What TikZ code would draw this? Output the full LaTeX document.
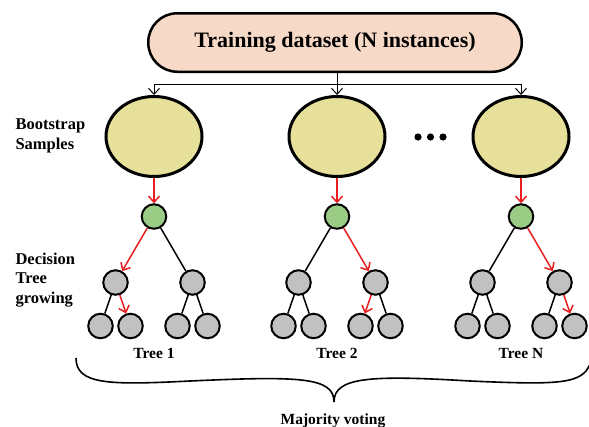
\documentclass[tikz,border=0pt]{standalone}
\usepackage{fontspec}
\setmainfont{Liberation Serif}
\usepackage{tikz}
\usetikzlibrary{calc}
\usetikzlibrary{arrows.meta,shapes.geometric}
\definecolor{boxpeach}{RGB}{247,217,199}
\definecolor{samplekhaki}{RGB}{230,224,154}
\definecolor{rootgreen}{RGB}{155,204,133}
\definecolor{nodegray}{RGB}{193,193,193}
\definecolor{branchred}{RGB}{232,30,30}

\begin{document}
\begin{tikzpicture}[
        x=1pt,
        y=-1pt,
        data box/.style={draw,line width=2.5pt,rounded corners=29pt,fill=boxpeach,
            minimum width=373.5pt,minimum height=58.5pt,
            font=\fontsize{22}{26}\selectfont\bfseries},
        sample/.style={ellipse,draw,line width=3pt,fill=samplekhaki,
            minimum width=96pt,minimum height=80pt,inner sep=0pt},
        root node/.style={circle,draw,line width=2pt,fill=rootgreen,
            minimum size=24.5pt,inner sep=0pt},
        tree node/.style={circle,draw,line width=2pt,fill=nodegray,
            minimum size=24.5pt,inner sep=0pt},
        branch/.style={line width=1.5pt},
        chosen branch/.style={line width=1.5pt,branchred,
            -{Straight Barb[length=6pt,width=11pt]}},
        feed/.style={line width=1pt,-{Straight Barb[length=6pt,width=11pt]}},
        side label/.style={anchor=west,align=left,
            font=\fontsize{16.5}{19.5}\selectfont\bfseries},
        tree label/.style={font=\fontsize{15.5}{18}\selectfont\bfseries}
    ]
        \useasboundingbox (0,0) rectangle (589,426);

        % The training set and the bootstrap samples drawn from it.
        \node[data box] (data) at (335,42.5) {Training dataset (N instances)};
        \node[sample] (s1) at (154,136.5) {};
        \node[sample] (s2) at (337,136.5) {};
        \node[sample] (s3) at (521,136.5) {};
        \coordinate (bus) at (337,84);
        \draw[feed] (data.south -| bus) -- (s2);
        \draw[feed] (bus) -| (s1);
        \draw[feed] (bus) -| (s3);
        \foreach \dx in {418,430.5,443}
            \fill (\dx,137) circle (3.6pt);
        \node[side label] (boot) at (12,136) {Bootstrap\\Samples};

        % The first tree.
        \coordinate (r1) at (154,216.5);
        \node[root node] (t1) at (r1) {};
        \node[tree node] (t1l) at ($(r1)+(-38.5,66)$) {};
        \node[tree node] (t1r) at ($(r1)+(38.5,66)$) {};
        \node[tree node] (t1ll) at ($(t1l)+(-15,43.5)$) {};
        \node[tree node] (t1lr) at ($(t1l)+(15,43.5)$) {};
        \node[tree node] (t1rl) at ($(t1r)+(-15,43.5)$) {};
        \node[tree node] (t1rr) at ($(t1r)+(15,43.5)$) {};
        \draw[chosen branch] (s1) -- (t1);
        \draw[chosen branch] (t1) -- (t1l);
        \draw[branch] (t1) -- (t1r);
        \draw[branch] (t1l) -- (t1ll);
        \draw[chosen branch] (t1l) -- (t1lr);
        \draw[branch] (t1r) -- (t1rl);
        \draw[branch] (t1r) -- (t1rr);
        \node[tree label] (lab1) at ($(r1)+(0,136.5)$) {Tree 1};

        % The second tree.
        \coordinate (r2) at (337,216.5);
        \node[root node] (t2) at (r2) {};
        \node[tree node] (t2l) at ($(r2)+(-38.5,66)$) {};
        \node[tree node] (t2r) at ($(r2)+(38.5,66)$) {};
        \node[tree node] (t2ll) at ($(t2l)+(-15,43.5)$) {};
        \node[tree node] (t2lr) at ($(t2l)+(15,43.5)$) {};
        \node[tree node] (t2rl) at ($(t2r)+(-15,43.5)$) {};
        \node[tree node] (t2rr) at ($(t2r)+(15,43.5)$) {};
        \draw[chosen branch] (s2) -- (t2);
        \draw[branch] (t2) -- (t2l);
        \draw[chosen branch] (t2) -- (t2r);
        \draw[branch] (t2l) -- (t2ll);
        \draw[branch] (t2l) -- (t2lr);
        \draw[chosen branch] (t2r) -- (t2rl);
        \draw[branch] (t2r) -- (t2rr);
        \node[tree label] (lab2) at ($(r2)+(0,136.5)$) {Tree 2};

        % The last tree.
        \coordinate (r3) at (521,216.5);
        \node[root node] (t3) at (r3) {};
        \node[tree node] (t3l) at ($(r3)+(-38.5,66)$) {};
        \node[tree node] (t3r) at ($(r3)+(38.5,66)$) {};
        \node[tree node] (t3ll) at ($(t3l)+(-15,43.5)$) {};
        \node[tree node] (t3lr) at ($(t3l)+(15,43.5)$) {};
        \node[tree node] (t3rl) at ($(t3r)+(-15,43.5)$) {};
        \node[tree node] (t3rr) at ($(t3r)+(15,43.5)$) {};
        \draw[chosen branch] (s3) -- (t3);
        \draw[branch] (t3) -- (t3l);
        \draw[chosen branch] (t3) -- (t3r);
        \draw[branch] (t3l) -- (t3ll);
        \draw[branch] (t3l) -- (t3lr);
        \draw[branch] (t3r) -- (t3rl);
        \draw[chosen branch] (t3r) -- (t3rr);
        \node[tree label] (lab3) at ($(r3)+(0,136.5)$) {Tree N};

        \node[side label] (grow) at (12,280) {Decision\\Tree\\growing};

        % The brace gathers the trees for the vote.
        \coordinate (tip) at (334,402);
        \draw[line width=1.6pt] (76,358) .. controls (76,385) and (110,385) .. (190,381)
            .. controls (300,376) and (334,377) .. (tip);
        \draw[line width=1.6pt] (tip) .. controls (334,377) and (370,375) .. (470,381)
            .. controls (560,385) and (582,384) .. (590,364);
        \node[tree label,anchor=base] (vote) at (333,424) {Majority voting};
    \end{tikzpicture}
\end{document}
